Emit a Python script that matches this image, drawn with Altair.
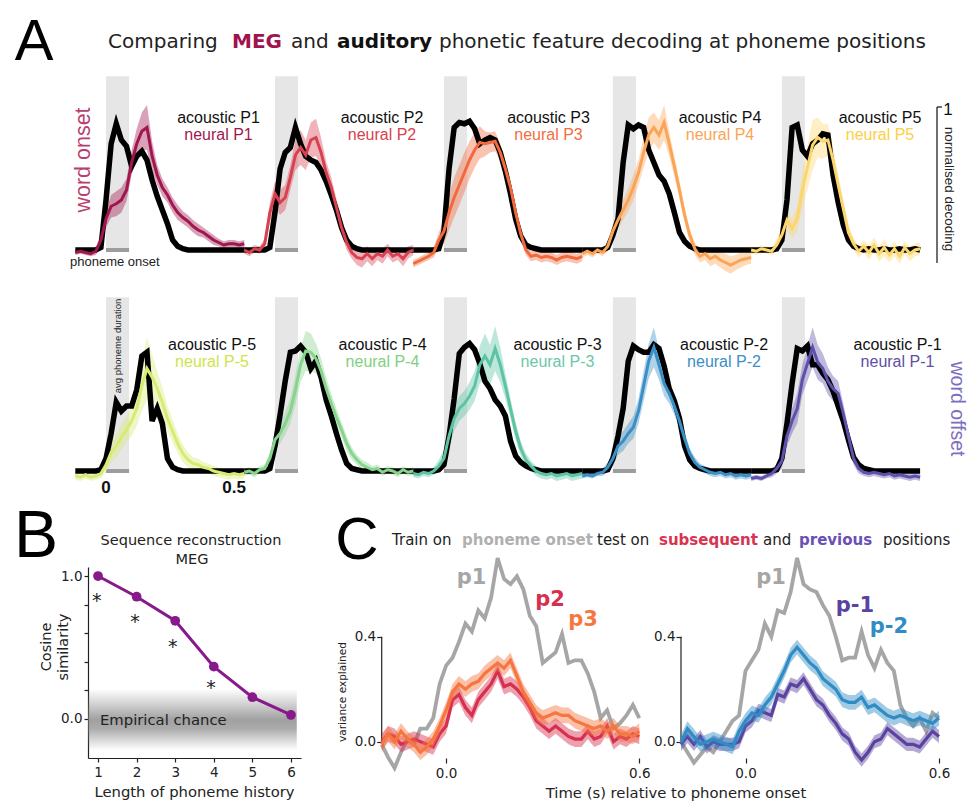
import altair as alt
import pandas as pd

# ------------------------------------------------------------------ data
# Panel A: time (s) relative to phoneme onset within each small panel
T_A = [-0.12, -0.10, -0.08, -0.06, -0.04, -0.02, 0.00, 0.02, 0.04, 0.06,
       0.08, 0.10, 0.12, 0.14, 0.16, 0.18, 0.20, 0.22, 0.24, 0.26,
       0.28, 0.30, 0.32, 0.34, 0.36, 0.38, 0.40, 0.42, 0.44, 0.46,
       0.48, 0.50, 0.52, 0.54]
PANEL_SPACING = 0.66
ONSET = 0.0
AVG_PHONEME_DURATION = 0.09
SHADE_TOP = 1.39
A_TICKS = [0.0, 0.5]
A_TICK_LABELS = ["0", "0.5"]

ROW1_NAMES = ["P1", "P2", "P3", "P4", "P5"]
ROW2_NAMES = ["P-5", "P-4", "P-3", "P-2", "P-1"]

AC_P1 = [0.00, 0.00, 0.00, 0.00, 0.00, 0.02, 0.40, 0.85, 1.01, 0.88, 0.83, 0.67, 0.75, 0.79, 0.72, 0.56, 0.43, 0.32, 0.21, 0.08, 0.03, 0.01, 0.00, 0.00, 0.00, 0.00, 0.00, 0.00, 0.00, 0.00, 0.00, 0.00, 0.00, 0.00]
NE_P1 = [-0.02, -0.01, -0.02, -0.03, -0.01, 0.08, 0.25, 0.35, 0.37, 0.40, 0.48, 0.70, 0.85, 0.95, 0.98, 0.75, 0.60, 0.50, 0.44, 0.36, 0.30, 0.26, 0.23, 0.19, 0.16, 0.14, 0.11, 0.08, 0.06, 0.04, 0.05, 0.05, 0.04, 0.05]
SE_P1 = [0.02, 0.02, 0.02, 0.02, 0.03, 0.05, 0.07, 0.09, 0.10, 0.10, 0.09, 0.10, 0.12, 0.15, 0.18, 0.12, 0.08, 0.07, 0.06, 0.06, 0.06, 0.05, 0.05, 0.05, 0.05, 0.04, 0.04, 0.04, 0.03, 0.03, 0.03, 0.03, 0.03, 0.03]

AC_P2 = [0.00, 0.00, 0.00, 0.00, 0.00, 0.02, 0.30, 0.65, 0.78, 0.82, 0.98, 0.85, 0.75, 0.72, 0.70, 0.64, 0.55, 0.44, 0.32, 0.18, 0.08, 0.03, 0.01, 0.00, 0.00, 0.00, 0.00, 0.00, 0.00, 0.00, 0.00, 0.00, 0.00, 0.00]
NE_P2 = [0.00, -0.02, 0.01, 0.00, 0.05, 0.30, 0.45, 0.38, 0.42, 0.58, 0.76, 0.82, 0.76, 0.88, 0.90, 0.78, 0.62, 0.50, 0.34, 0.18, 0.06, -0.02, -0.06, -0.07, -0.03, -0.07, -0.03, -0.05, 0.00, -0.05, -0.03, -0.07, -0.02, 0.00]
SE_P2 = [0.03, 0.03, 0.03, 0.03, 0.04, 0.08, 0.10, 0.10, 0.10, 0.10, 0.12, 0.14, 0.12, 0.14, 0.15, 0.12, 0.09, 0.08, 0.07, 0.06, 0.06, 0.05, 0.06, 0.07, 0.06, 0.06, 0.05, 0.06, 0.05, 0.05, 0.05, 0.06, 0.05, 0.04]

AC_P3 = [0.00, 0.00, 0.00, 0.00, 0.00, 0.01, 0.15, 0.65, 0.98, 1.02, 1.01, 1.03, 0.97, 0.85, 0.88, 0.90, 0.88, 0.78, 0.63, 0.45, 0.25, 0.11, 0.04, 0.02, 0.01, 0.00, 0.00, 0.00, 0.00, 0.00, 0.00, 0.00, 0.00, 0.00]
NE_P3 = [-0.11, -0.09, -0.07, -0.05, -0.02, 0.08, 0.15, 0.30, 0.42, 0.52, 0.62, 0.72, 0.80, 0.86, 0.85, 0.86, 0.87, 0.78, 0.65, 0.50, 0.30, 0.13, 0.00, -0.05, -0.04, -0.06, -0.05, -0.06, -0.08, -0.06, -0.05, -0.06, -0.07, -0.05]
SE_P3 = [0.03, 0.03, 0.03, 0.03, 0.04, 0.06, 0.10, 0.14, 0.16, 0.16, 0.16, 0.15, 0.14, 0.13, 0.10, 0.08, 0.08, 0.07, 0.06, 0.05, 0.05, 0.04, 0.04, 0.04, 0.04, 0.04, 0.04, 0.04, 0.04, 0.04, 0.04, 0.04, 0.04, 0.04]

AC_P4 = [0.00, 0.00, 0.00, 0.00, 0.00, 0.02, 0.12, 0.25, 0.70, 1.00, 0.97, 1.00, 0.98, 0.80, 0.70, 0.60, 0.55, 0.45, 0.30, 0.14, 0.07, 0.03, 0.01, 0.00, 0.00, 0.00, 0.00, 0.00, 0.00, 0.00, 0.00, 0.00, 0.00, 0.00]
NE_P4 = [-0.03, -0.01, -0.03, 0.00, -0.02, 0.03, 0.15, 0.24, 0.32, 0.40, 0.50, 0.62, 0.78, 0.92, 0.98, 0.92, 1.02, 0.85, 0.67, 0.48, 0.28, 0.12, 0.01, -0.05, -0.03, -0.07, -0.05, -0.08, -0.10, -0.12, -0.10, -0.08, -0.07, -0.06]
SE_P4 = [0.03, 0.03, 0.03, 0.03, 0.03, 0.04, 0.06, 0.07, 0.08, 0.09, 0.10, 0.10, 0.12, 0.14, 0.12, 0.12, 0.14, 0.10, 0.08, 0.07, 0.06, 0.05, 0.05, 0.05, 0.05, 0.06, 0.06, 0.06, 0.07, 0.07, 0.06, 0.06, 0.05, 0.05]

AC_P5 = [0.00, 0.00, 0.00, 0.00, 0.00, 0.01, 0.08, 0.40, 0.98, 1.00, 0.80, 0.75, 0.85, 0.88, 0.93, 0.92, 0.60, 0.38, 0.20, 0.08, 0.03, 0.01, 0.00, 0.01, 0.00, 0.00, 0.01, 0.00, 0.00, 0.01, 0.00, 0.00, 0.01, 0.00]
NE_P5 = [0.00, -0.01, 0.01, 0.00, -0.01, 0.04, 0.12, 0.24, 0.17, 0.25, 0.48, 0.66, 0.84, 0.90, 0.87, 0.88, 0.72, 0.52, 0.33, 0.14, 0.05, -0.01, 0.03, -0.02, 0.04, -0.03, 0.02, -0.04, 0.01, -0.05, 0.02, -0.03, 0.00, 0.01]
SE_P5 = [0.03, 0.03, 0.03, 0.03, 0.03, 0.05, 0.07, 0.08, 0.08, 0.10, 0.14, 0.18, 0.20, 0.16, 0.14, 0.13, 0.10, 0.08, 0.07, 0.06, 0.05, 0.05, 0.05, 0.06, 0.06, 0.06, 0.07, 0.06, 0.06, 0.06, 0.05, 0.06, 0.05, 0.05]

AC_M5 = [0.00, 0.00, 0.00, 0.00, 0.00, 0.01, 0.10, 0.30, 0.55, 0.48, 0.52, 0.52, 0.65, 0.92, 0.95, 0.40, 0.50, 0.38, 0.10, 0.03, 0.01, 0.00, 0.00, 0.00, 0.00, 0.00, 0.00, 0.00, 0.00, 0.00, 0.00, 0.00, 0.00, 0.00]
NE_M5 = [-0.04, -0.05, -0.03, -0.05, -0.04, -0.02, 0.05, 0.15, 0.20, 0.27, 0.33, 0.40, 0.50, 0.68, 0.82, 0.75, 0.66, 0.55, 0.42, 0.32, 0.22, 0.14, 0.09, 0.06, 0.05, 0.03, 0.02, 0.00, -0.01, -0.02, -0.03, -0.02, -0.03, -0.02]
SE_M5 = [0.03, 0.03, 0.03, 0.03, 0.03, 0.04, 0.06, 0.08, 0.09, 0.10, 0.10, 0.12, 0.14, 0.20, 0.25, 0.18, 0.14, 0.12, 0.10, 0.09, 0.08, 0.07, 0.06, 0.05, 0.05, 0.04, 0.04, 0.04, 0.04, 0.04, 0.04, 0.04, 0.04, 0.04]

AC_M4 = [0.00, 0.00, 0.00, 0.00, 0.00, 0.02, 0.20, 0.45, 0.72, 0.95, 0.96, 1.00, 0.95, 0.82, 0.88, 0.75, 0.57, 0.44, 0.30, 0.17, 0.06, 0.02, 0.01, 0.00, 0.00, 0.00, 0.00, 0.00, 0.00, 0.00, 0.00, 0.00, 0.00, 0.00]
NE_M4 = [-0.01, 0.00, -0.02, 0.01, 0.02, 0.10, 0.25, 0.30, 0.38, 0.48, 0.65, 0.85, 0.96, 0.95, 0.90, 0.80, 0.66, 0.54, 0.43, 0.33, 0.22, 0.14, 0.09, 0.05, 0.03, 0.01, 0.02, -0.01, 0.01, 0.00, -0.02, 0.01, -0.01, 0.00]
SE_M4 = [0.03, 0.03, 0.03, 0.03, 0.03, 0.05, 0.07, 0.08, 0.09, 0.10, 0.12, 0.14, 0.16, 0.15, 0.12, 0.10, 0.09, 0.08, 0.07, 0.06, 0.06, 0.05, 0.04, 0.04, 0.04, 0.03, 0.03, 0.03, 0.03, 0.03, 0.03, 0.03, 0.03, 0.03]

AC_M3 = [0.00, 0.00, 0.00, 0.00, 0.00, 0.01, 0.05, 0.28, 0.58, 0.94, 0.99, 1.02, 0.97, 0.86, 0.72, 0.66, 0.57, 0.52, 0.44, 0.24, 0.12, 0.07, 0.04, 0.02, 0.01, 0.00, 0.00, 0.00, 0.00, 0.00, 0.00, 0.00, 0.00, 0.00]
NE_M3 = [-0.02, -0.03, -0.01, -0.02, 0.00, 0.04, 0.10, 0.28, 0.42, 0.50, 0.54, 0.60, 0.68, 0.85, 0.92, 0.85, 0.98, 0.85, 0.68, 0.50, 0.32, 0.18, 0.09, 0.04, 0.00, -0.02, -0.03, -0.02, -0.04, -0.03, -0.02, -0.04, -0.03, -0.02]
SE_M3 = [0.03, 0.03, 0.03, 0.03, 0.03, 0.05, 0.07, 0.09, 0.10, 0.10, 0.10, 0.11, 0.12, 0.15, 0.18, 0.16, 0.18, 0.14, 0.10, 0.08, 0.07, 0.06, 0.05, 0.04, 0.04, 0.04, 0.04, 0.04, 0.04, 0.04, 0.04, 0.04, 0.04, 0.04]

AC_M2 = [0.00, 0.00, 0.00, 0.00, 0.00, 0.01, 0.10, 0.28, 0.50, 0.88, 1.00, 0.97, 0.95, 0.95, 1.01, 0.98, 0.84, 0.66, 0.56, 0.42, 0.20, 0.09, 0.04, 0.02, 0.01, 0.00, 0.00, 0.00, 0.00, 0.00, 0.00, 0.00, 0.00, 0.00]
NE_M2 = [-0.04, -0.03, -0.04, -0.02, -0.01, 0.03, 0.10, 0.20, 0.24, 0.30, 0.35, 0.48, 0.68, 0.88, 0.99, 0.85, 0.70, 0.62, 0.52, 0.40, 0.26, 0.14, 0.07, 0.03, 0.01, -0.01, -0.02, -0.01, -0.03, -0.02, -0.04, -0.03, -0.04, -0.03]
SE_M2 = [0.02, 0.02, 0.02, 0.02, 0.03, 0.04, 0.06, 0.07, 0.08, 0.08, 0.09, 0.10, 0.12, 0.14, 0.16, 0.12, 0.10, 0.08, 0.07, 0.06, 0.05, 0.04, 0.04, 0.03, 0.03, 0.03, 0.03, 0.03, 0.03, 0.03, 0.03, 0.03, 0.03, 0.03]

AC_M1 = [0.00, 0.00, 0.00, 0.00, 0.00, 0.01, 0.10, 0.38, 0.70, 0.98, 0.96, 1.00, 0.85, 0.85, 0.78, 0.73, 0.64, 0.52, 0.40, 0.25, 0.11, 0.05, 0.02, 0.01, 0.00, 0.00, 0.00, 0.00, 0.00, 0.00, 0.00, 0.00, 0.00, 0.00]
NE_M1 = [-0.06, -0.05, -0.06, -0.04, -0.02, 0.02, 0.08, 0.28, 0.40, 0.50, 0.73, 0.86, 0.99, 0.87, 0.82, 0.72, 0.66, 0.62, 0.46, 0.28, 0.10, 0.02, -0.01, -0.02, -0.01, -0.02, -0.03, -0.02, -0.04, -0.03, -0.04, -0.05, -0.04, -0.05]
SE_M1 = [0.02, 0.02, 0.02, 0.02, 0.03, 0.04, 0.06, 0.08, 0.10, 0.12, 0.12, 0.14, 0.16, 0.14, 0.12, 0.11, 0.10, 0.10, 0.08, 0.06, 0.05, 0.04, 0.03, 0.03, 0.03, 0.03, 0.03, 0.03, 0.03, 0.03, 0.03, 0.03, 0.03, 0.03]

# Panel B
B_HISTORY = [1, 2, 3, 4, 5, 6]
B_SIMILARITY = [1.0, 0.855, 0.687, 0.366, 0.152, 0.028]
B_STAR_X = [0.965, 1.958, 2.934, 3.927]
B_STAR_Y = [0.86, 0.711, 0.541, 0.25]
B_CHANCE_X = [0.74, 6.15]
B_CHANCE_Y = [-0.22, 0.21]
B_Y_TICKS = [0.0, 0.2, 0.4, 0.6, 0.8, 1.0]

# Panel C
T_C = [-0.20, -0.18, -0.16, -0.14, -0.12, -0.10, -0.08, -0.06, -0.04, -0.02,
       0.00, 0.02, 0.04, 0.06, 0.08, 0.10, 0.12, 0.14, 0.16, 0.18,
       0.20, 0.22, 0.24, 0.26, 0.28, 0.30, 0.32, 0.34, 0.36, 0.38,
       0.40, 0.42, 0.44, 0.46, 0.48, 0.50, 0.52, 0.54, 0.56, 0.58, 0.60]
C_P1_LEFT = [-0.01, -0.06, -0.10, -0.04, 0.01, -0.01, 0.05, 0.05, 0.09, 0.22, 0.29, 0.32, 0.38, 0.45, 0.42, 0.50, 0.47, 0.55, 0.70, 0.62, 0.60, 0.63, 0.58, 0.48, 0.44, 0.30, 0.32, 0.34, 0.41, 0.30, 0.31, 0.31, 0.26, 0.19, 0.09, 0.12, 0.05, 0.07, 0.10, 0.14, 0.09]
C_P2 = [0.00, 0.03, 0.02, -0.01, 0.00, 0.01, 0.00, -0.01, -0.02, 0.03, 0.06, 0.16, 0.18, 0.13, 0.10, 0.16, 0.19, 0.22, 0.27, 0.21, 0.22, 0.20, 0.17, 0.13, 0.08, 0.06, 0.04, 0.06, 0.04, 0.02, 0.01, 0.01, 0.04, 0.01, 0.02, 0.06, 0.00, 0.02, 0.01, 0.03, 0.02]
C_P3 = [-0.01, 0.03, 0.00, 0.04, 0.01, -0.01, -0.04, -0.02, 0.01, 0.06, 0.12, 0.19, 0.22, 0.20, 0.22, 0.23, 0.26, 0.28, 0.30, 0.28, 0.31, 0.25, 0.19, 0.15, 0.11, 0.09, 0.10, 0.11, 0.10, 0.10, 0.08, 0.07, 0.06, 0.05, 0.06, 0.04, 0.06, 0.03, 0.03, 0.02, 0.04]
C_P1_RIGHT = [0.00, -0.04, -0.08, -0.05, -0.02, -0.04, 0.00, 0.04, 0.08, 0.10, 0.27, 0.31, 0.35, 0.45, 0.40, 0.50, 0.49, 0.57, 0.70, 0.60, 0.58, 0.57, 0.52, 0.48, 0.40, 0.31, 0.32, 0.32, 0.42, 0.33, 0.28, 0.35, 0.30, 0.27, 0.14, 0.09, 0.06, 0.09, 0.04, 0.11, 0.09]
C_PM1 = [-0.01, 0.02, -0.01, 0.02, -0.02, 0.00, -0.01, -0.01, -0.01, 0.00, 0.06, 0.08, 0.12, 0.11, 0.10, 0.18, 0.17, 0.22, 0.21, 0.24, 0.20, 0.16, 0.14, 0.10, 0.07, 0.03, 0.01, -0.04, -0.07, -0.04, 0.00, 0.01, 0.05, 0.03, 0.01, -0.01, -0.01, -0.02, 0.01, 0.04, 0.02]
C_PM2 = [0.00, 0.05, 0.02, -0.01, 0.00, 0.01, 0.00, -0.01, -0.02, 0.04, 0.08, 0.11, 0.10, 0.14, 0.17, 0.22, 0.27, 0.33, 0.36, 0.33, 0.30, 0.28, 0.24, 0.22, 0.20, 0.16, 0.15, 0.15, 0.17, 0.13, 0.14, 0.12, 0.10, 0.09, 0.10, 0.09, 0.08, 0.09, 0.08, 0.07, 0.09]
C_SE = {"p2": 0.03, "p3": 0.03, "p-1": 0.025, "p-2": 0.028}
C_Y_SPAN = [0.0, 0.4]

for arr in [AC_P1, NE_P1, SE_P1, AC_P2, NE_P2, SE_P2, AC_P3, NE_P3, SE_P3, AC_P4, NE_P4, SE_P4,
            AC_P5, NE_P5, SE_P5, AC_M5, NE_M5, SE_M5, AC_M4, NE_M4, SE_M4, AC_M3, NE_M3, SE_M3,
            AC_M2, NE_M2, SE_M2, AC_M1, NE_M1, SE_M1]:
    assert len(arr) == len(T_A), len(arr)
for arr in [C_P1_LEFT, C_P2, C_P3, C_P1_RIGHT, C_PM1, C_PM2]:
    assert len(arr) == len(T_C), len(arr)

# ------------------------------------------------------------------ layout / style
A_X_DOMAIN = [-0.12, 3.18]
A_X_RANGE = [75.3, 920.1]
A_Y_DOMAIN = [-0.2, 1.4]
ROW1_Y_RANGE = [275, 75]
ROW2_Y_RANGE = [496, 296]

ROW1_COLORS = ["#a0174f", "#d8414f", "#f26a3c", "#fba456", "#fcd66c"]
ROW1_LABEL_COLORS = ["#a0174f", "#d8414f", "#f36d43", "#fba456", "#fdcf45"]
ROW2_COLORS = ["#d6ec70", "#86d48d", "#5cc4a4", "#3a8fc6", "#6050ab"]
ROW2_LABEL_COLORS = ["#cfe44a", "#7fd07f", "#6cc7a8", "#3a8fc6", "#5e4ea6"]

ROW1_LABEL_X = [218.5, 382, 548.5, 720, 880]
ROW2_LABEL_X = [212, 382.5, 557.5, 724, 897.5]

B_X_DOMAIN = [0.74, 6.26]
B_X_RANGE = [88, 301]
B_Y_DOMAIN = [-0.273, 1.063]
B_Y_RANGE = [758, 567]
PURPLE = "#87198b"

C_X_DOMAIN = [-0.2, 0.6]
C_LEFT_X_RANGE = [381.7, 639.3]
C_RIGHT_X_RANGE = [681.0, 939.0]
C_Y_DOMAIN = [-0.12, 0.72]
C_Y_RANGE = [773.2, 552.7]

GREY = "#a6a6a6"
RED = "#d72f4d"
ORANGE = "#f7763f"
VIOLET = "#5a43a0"
BLUE = "#2f8cc4"

SANS = "DejaVu Sans"
HELV = "Liberation Sans"
DUMMY = pd.DataFrame({"d": [0]})


def scale(domain, rng):
    return alt.Scale(domain=domain, range=rng, zero=False, nice=False)


def text(s, x, y, size, color="#222222", font=SANS, weight="normal", align="left",
         baseline="alphabetic", angle=None):
    kw = dict(text=s, fontSize=size, color=color, font=font, fontWeight=weight,
              align=align, baseline=baseline)
    if angle is not None:
        kw["angle"] = angle
    return alt.Chart(DUMMY).mark_text(**kw).encode(x=alt.value(x), y=alt.value(y))


def row_layers(names, colors, label_colors, acs, nes, ses, y_range, label_x, y_ac, y_ne):
    recs = []
    for k, name in enumerate(names):
        for t, a, n, s in zip(T_A, acs[k], nes[k], ses[k]):
            recs.append({"panel": name, "x": t + k * PANEL_SPACING, "acoustic": a,
                         "neural": n, "lo": n - s, "hi": n + s})
    df = pd.DataFrame(recs)
    xs = scale(A_X_DOMAIN, A_X_RANGE)
    ys = scale(A_Y_DOMAIN, y_range)
    cs = alt.Scale(domain=names, range=colors)
    shade = pd.DataFrame({
        "x0": [k * PANEL_SPACING + ONSET for k in range(len(names))],
        "x1": [k * PANEL_SPACING + ONSET + AVG_PHONEME_DURATION for k in range(len(names))],
        "y0": [0.0] * len(names),
        "y1": [SHADE_TOP] * len(names),
    })

    def X(f):
        return alt.X(f, scale=xs, axis=None)

    def Y(f):
        return alt.Y(f, scale=ys, axis=None)

    layers = [
        alt.Chart(shade).mark_rect(color="#e6e6e6").encode(x=X("x0:Q"), x2="x1:Q", y=Y("y0:Q"), y2="y1:Q"),
        alt.Chart(shade).mark_rule(color="#9d9d9d", strokeWidth=4).encode(x=X("x0:Q"), x2="x1:Q", y=Y("y0:Q")),
        alt.Chart(df).mark_area(opacity=0.4).encode(
            x=X("x:Q"), y=Y("lo:Q"), y2="hi:Q",
            color=alt.Color("panel:N", scale=cs, legend=None)),
        alt.Chart(df).mark_line(color="black", strokeWidth=5.5).encode(
            x=X("x:Q"), y=Y("acoustic:Q"), detail="panel:N"),
        alt.Chart(df).mark_line(strokeWidth=3).encode(
            x=X("x:Q"), y=Y("neural:Q"),
            color=alt.Color("panel:N", scale=cs, legend=None)),
    ]
    lab = pd.DataFrame({"lx": label_x,
                        "ac": ["acoustic " + n for n in names],
                        "ne": ["neural " + n for n in names],
                        "col": label_colors})
    layers.append(alt.Chart(lab).mark_text(font=HELV, fontSize=16, color="#111111",
                                           align="center", baseline="alphabetic").encode(
        x=alt.X("lx:Q", scale=None), y=alt.value(y_ac), text="ac:N"))
    layers.append(alt.Chart(lab).mark_text(font=HELV, fontSize=16,
                                           align="center", baseline="alphabetic").encode(
        x=alt.X("lx:Q", scale=None), y=alt.value(y_ne), text="ne:N",
        color=alt.Color("col:N", scale=None)))
    return layers


layers = []

# ---------------- Panel A
layers += row_layers(ROW1_NAMES, ROW1_COLORS, ROW1_LABEL_COLORS,
                     [AC_P1, AC_P2, AC_P3, AC_P4, AC_P5],
                     [NE_P1, NE_P2, NE_P3, NE_P4, NE_P5],
                     [SE_P1, SE_P2, SE_P3, SE_P4, SE_P5],
                     ROW1_Y_RANGE, ROW1_LABEL_X, 123, 140)
layers += row_layers(ROW2_NAMES, ROW2_COLORS, ROW2_LABEL_COLORS,
                     [AC_M5, AC_M4, AC_M3, AC_M2, AC_M1],
                     [NE_M5, NE_M4, NE_M3, NE_M2, NE_M1],
                     [SE_M5, SE_M4, SE_M3, SE_M2, SE_M1],
                     ROW2_Y_RANGE, ROW2_LABEL_X, 350, 367)

a_ticks = pd.DataFrame({"t": A_TICKS, "lab": A_TICK_LABELS})
layers.append(alt.Chart(a_ticks).mark_text(font=HELV, fontSize=17, fontWeight="bold", color="#111111",
                                           align="center", baseline="alphabetic").encode(
    x=alt.X("t:Q", scale=scale(A_X_DOMAIN, A_X_RANGE), axis=None), y=alt.value(493), text="lab:N"))

layers += [
    text("A", 34, 60, 58, color="#000000", font=HELV, align="center"),
    text("Comparing", 108, 48, 20),
    text("MEG", 232, 48, 20, color="#a0134e", weight="bold"),
    text("and", 291, 48, 20),
    text("auditory", 337, 48, 20, color="#111111", weight="bold"),
    text("phonetic feature decoding at phoneme positions", 439, 48, 20),
    text("word onset", 84, 160, 21.5, color="#b8406f", font=HELV, align="center",
         baseline="middle", angle=270),
    text("word offset", 957, 409, 19.5, color="#7d6fbf", font=HELV, align="center",
         baseline="middle", angle=90),
    text("phoneme onset", 70, 266, 13, color="#222222", font=HELV),
    text("avg phoneme duration", 118, 346, 9.5, color="#222222", font=HELV, align="center",
         baseline="middle", angle=270),
    alt.Chart(DUMMY).mark_rule(color="#222222", strokeWidth=1.3).encode(
        x=alt.value(937), y=alt.value(107), y2=alt.value(263)),
    alt.Chart(DUMMY).mark_rule(color="#222222", strokeWidth=1.3).encode(
        x=alt.value(937), x2=alt.value(942), y=alt.value(107)),
    text("1", 948, 115, 17, color="#111111", font=HELV, align="center"),
    text("normalised decoding", 949, 189, 13.5, color="#222222", font=HELV, align="center",
         baseline="middle", angle=90),
]

# ---------------- Panel B
bx = scale(B_X_DOMAIN, B_X_RANGE)
by = scale(B_Y_DOMAIN, B_Y_RANGE)
chance = pd.DataFrame({"x0": [B_CHANCE_X[0]], "x1": [B_CHANCE_X[1]],
                       "y0": [B_CHANCE_Y[0]], "y1": [B_CHANCE_Y[1]]})
grad = alt.Gradient(
    gradient="linear",
    stops=[alt.GradientStop(color="rgba(120,120,120,0)", offset=0),
           alt.GradientStop(color="rgba(120,120,120,0.30)", offset=0.22),
           alt.GradientStop(color="rgba(120,120,120,0.70)", offset=0.5),
           alt.GradientStop(color="rgba(120,120,120,0.62)", offset=0.65),
           alt.GradientStop(color="rgba(120,120,120,0.25)", offset=0.85),
           alt.GradientStop(color="rgba(120,120,120,0)", offset=1)],
    x1=0, x2=0, y1=0, y2=1)
layers.append(alt.Chart(chance).mark_rect(fill=grad).encode(
    x=alt.X("x0:Q", scale=bx, axis=None), x2="x1:Q",
    y=alt.Y("y1:Q", scale=by, axis=None), y2="y0:Q"))

bdf = pd.DataFrame({"h": B_HISTORY, "s": B_SIMILARITY})
axis_style = dict(title=None, grid=False, labelFont=SANS, labelFontSize=13.5, labelColor="#222222",
                  domainColor="#222222", tickColor="#222222", domainWidth=1.2, tickWidth=1.2,
                  labelFlush=False)
layers.append(alt.Chart(bdf).mark_line(color=PURPLE, strokeWidth=3).encode(
    x=alt.X("h:Q", scale=bx, axis=alt.Axis(orient="bottom", offset=-44, values=B_HISTORY,
                                           format="d", tickSize=4, labelPadding=3, **axis_style)),
    y=alt.Y("s:Q", scale=by, axis=alt.Axis(
        orient="left", offset=-88, values=B_Y_TICKS, tickSize=4, labelPadding=2,
        labelExpr="(datum.value == 0 || datum.value == 1) ? format(datum.value, '.1f') : ''",
        **axis_style))))
layers.append(alt.Chart(bdf).mark_circle(color=PURPLE, size=95, opacity=1).encode(
    x=alt.X("h:Q", scale=bx, axis=None), y=alt.Y("s:Q", scale=by, axis=None)))
stars = pd.DataFrame({"x": B_STAR_X, "y": B_STAR_Y})
layers.append(alt.Chart(stars).mark_text(text="*", font=SANS, fontSize=19, color="#222222",
                                         baseline="alphabetic", dy=11).encode(
    x=alt.X("x:Q", scale=bx, axis=None), y=alt.Y("y:Q", scale=by, axis=None)))
layers += [
    text("B", 36, 557, 66, color="#000000", font=HELV, align="center"),
    text("Sequence reconstruction", 191, 545, 14.5, align="center"),
    text("MEG", 192, 564, 14.5, align="center"),
    text("Empirical chance", 100, 725, 14.8),
    text("Cosine", 47, 647, 14.5, align="center", baseline="middle", angle=270),
    text("similarity", 64, 647, 14.5, align="center", baseline="middle", angle=270),
    text("Length of phoneme history", 194.5, 797, 14.8, align="center"),
]


# ---------------- Panel C
def c_panel(series, x_range, axis_x):
    xs = scale(C_X_DOMAIN, x_range)
    ys = scale(C_Y_DOMAIN, C_Y_RANGE)
    out = []
    span = pd.DataFrame({"x": [C_X_DOMAIN[0]], "y0": [C_Y_SPAN[0]], "y1": [C_Y_SPAN[1]]})
    out.append(alt.Chart(span).mark_rule(color="#222222", strokeWidth=1.2).encode(
        x=alt.X("x:Q", scale=xs, axis=None), y=alt.Y("y0:Q", scale=ys, axis=None), y2="y1:Q"))
    for i, (name, vals, color) in enumerate(series):
        df = pd.DataFrame({"t": T_C, "v": vals})
        if name in C_SE:
            df["lo"] = df["v"] - C_SE[name]
            df["hi"] = df["v"] + C_SE[name]
            out.append(alt.Chart(df).mark_area(color=color, opacity=0.45).encode(
                x=alt.X("t:Q", scale=xs, axis=None), y=alt.Y("lo:Q", scale=ys, axis=None), y2="hi:Q"))
        if i == 0:
            xa = alt.Axis(orient="bottom", offset=-44, values=[0.0, 0.6], format=".1f", domain=False,
                          tickSize=5, labelPadding=3, **axis_style)
            ya = alt.Axis(orient="left", offset=-axis_x, values=C_Y_SPAN, format=".1f", domain=False,
                          tickSize=5, labelPadding=1, **axis_style)
        else:
            xa = None
            ya = None
        out.append(alt.Chart(df).mark_line(color=color, strokeWidth=3.8 if i == 0 else 3.2).encode(
            x=alt.X("t:Q", scale=xs, axis=xa), y=alt.Y("v:Q", scale=ys, axis=ya)))
    return out


layers += c_panel([("p1", C_P1_LEFT, GREY), ("p2", C_P2, RED), ("p3", C_P3, ORANGE)],
                  C_LEFT_X_RANGE, 381.7)
layers += c_panel([("p1", C_P1_RIGHT, GREY), ("p-1", C_PM1, VIOLET), ("p-2", C_PM2, BLUE)],
                  C_RIGHT_X_RANGE, 681.0)
layers += [
    text("C", 357, 559, 60, color="#000000", font=HELV, align="center"),
    text("Train on", 392, 545, 15),
    text("phoneme onset", 462, 545, 15, color="#b0b0b0", weight="bold"),
    text("test on", 597, 545, 15),
    text("subsequent", 659, 545, 15, color="#d8334f", weight="bold"),
    text("and", 763, 545, 15),
    text("previous", 799, 545, 15, color="#6a50b5", weight="bold"),
    text("positions", 883, 545, 15),
    text("p1", 471.5, 584, 21, color=GREY, weight="bold", align="center"),
    text("p2", 550, 606, 21, color=RED, weight="bold", align="center"),
    text("p3", 583, 626, 21, color=ORANGE, weight="bold", align="center"),
    text("p1", 771, 584, 21, color=GREY, weight="bold", align="center"),
    text("p-1", 855, 612, 21, color=VIOLET, weight="bold", align="center"),
    text("p-2", 889, 633, 21, color=BLUE, weight="bold", align="center"),
    text("variance explained", 343, 692, 10.5, align="center", baseline="middle", angle=270),
    text("Time (s) relative to phoneme onset", 676, 798, 14.8, align="center"),
]

chart = alt.layer(*layers).properties(
    width=971, height=802,
    autosize=alt.AutoSizeParams(type="none"),
    padding=0,
    background="white",
).resolve_scale(
    x="independent", y="independent", color="independent"
).resolve_axis(
    x="independent", y="independent"
).configure_view(stroke=None)

chart.save("out.html", embed_options={"renderer": "svg", "actions": False})
